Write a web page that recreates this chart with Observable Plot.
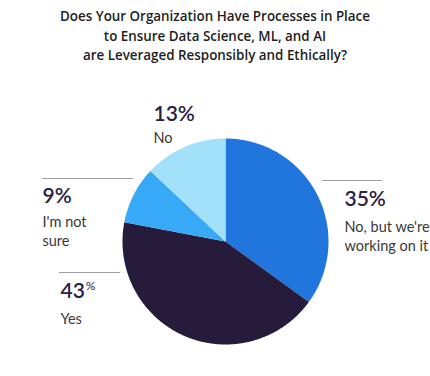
<!DOCTYPE html>
<html><head><meta charset="utf-8">
<script src="https://cdn.jsdelivr.net/npm/d3@7"></script>
<script src="https://cdn.jsdelivr.net/npm/@observablehq/plot@0.6"></script>
<style>
body{margin:0;background:#fff;width:430px;height:376px;overflow:hidden;}
#title{height:72px;box-sizing:border-box;padding-top:7px;text-align:center;font-family:"Open Sans",sans-serif;font-weight:600;font-size:13.4px;line-height:19.5px;color:#1e1e1e;}
</style></head><body>
<div id="title">Does Your Organization Have Processes in Place<br>to Ensure Data Science, ML, and AI<br>are Leveraged Responsibly and Ethically?</div>
<div id="chart"></div>
<script>
// data
const categories = ["No, but we're working on it", "Yes", "I'm not sure", "No"];
const shares = [35, 43, 9, 13];
const labelLines = ["No, but we're\nworking on it", "Yes", "I'm not\nsure", "No"];

// styles / layout
const colors = ["#2176de", "#261b3b", "#37a9f7", "#a3e1fa"];
const R = 103;
const numSize = 21, nameSize = 14.5, numWeight = 600;
const numFont = `${numWeight} ${numSize}px Lato`;
// label placement (px relative to pie center): number x, number baseline y, first name baseline offset, rule [x1,x2,y] or null, superscript %
const labelLayout = [
  {x: 119, y: -36, nameDy: 23, rule: [97, 157, -61], sup: false},
  {x: -165, y: 56, nameDy: 23, rule: [-166, -105, 31], sup: true},
  {x: -183, y: -39, nameDy: 21, rule: [-183, -92, -63], sup: false},
  {x: -72, y: -121, nameDy: 19, rule: null, sup: false}
];

const pie = d3.pie().sort(null).value(d => d)(shares);
const slicePts = [];
pie.forEach((p, i) => {
  slicePts.push({k: categories[i], x: 0, y: 0});
  const n = Math.max(4, Math.ceil((p.endAngle - p.startAngle) / 0.01));
  for (let j = 0; j <= n; j++) {
    const a = p.startAngle + (p.endAngle - p.startAngle) * j / n;
    slicePts.push({k: categories[i], x: R * Math.sin(a), y: -R * Math.cos(a)});
  }
  slicePts.push({k: categories[i], x: 0, y: 0});
});

const ctx = document.createElement("canvas").getContext("2d");
ctx.font = numFont;
const labels = categories.map((c, i) => {
  const L = labelLayout[i];
  const num = String(shares[i]);
  return {
    k: c, num, name: labelLines[i], x: L.x, y: L.y, nameDy: L.nameDy, sup: L.sup,
    pctDx: ctx.measureText(num).width + (L.sup ? 1 : 0)
  };
});
const rules = labelLayout.filter(L => L.rule).map(L => ({x1: L.rule[0], x2: L.rule[1], y: L.rule[2]}));

const chart = Plot.plot({
  width: 430, height: 304,
  margin: 0,
  x: {domain: [-225, 205], range: [0, 430], axis: null},
  y: {domain: [-169, 135], range: [0, 304], axis: null},
  color: {domain: categories, range: colors},
  style: {fontFamily: "Lato, sans-serif", background: "transparent"},
  marks: [
    Plot.line(slicePts, {x: "x", y: "y", z: "k", fill: "k", stroke: "none", curve: "linear"}),
    Plot.ruleY(rules, {x1: "x1", x2: "x2", y: "y", stroke: "#a0a0a0", strokeWidth: 1.2}),
    Plot.text(labels, {x: "x", y: "y", text: "num", textAnchor: "start", lineAnchor: "bottom", fontSize: numSize, fontWeight: numWeight, fill: "#2a2140"}),
    Plot.text(labels.filter(d => !d.sup), {x: d => d.x + d.pctDx, y: "y", text: () => "%", textAnchor: "start", lineAnchor: "bottom", fontSize: numSize, fontWeight: numWeight, fill: "#2a2140"}),
    Plot.text(labels.filter(d => d.sup), {x: d => d.x + d.pctDx, y: d => d.y - 8, text: () => "%", textAnchor: "start", lineAnchor: "bottom", fontSize: 12, fontWeight: 400, fill: "#2a2140"}),
    Plot.text(labels, {x: "x", y: d => d.y + d.nameDy - 0.71 * nameSize, text: "name", textAnchor: "start", lineAnchor: "top", fontSize: nameSize, lineHeight: 19 / nameSize, fill: "#383838"})
  ]
});
document.getElementById("chart").appendChild(chart);
</script>
</body></html>
